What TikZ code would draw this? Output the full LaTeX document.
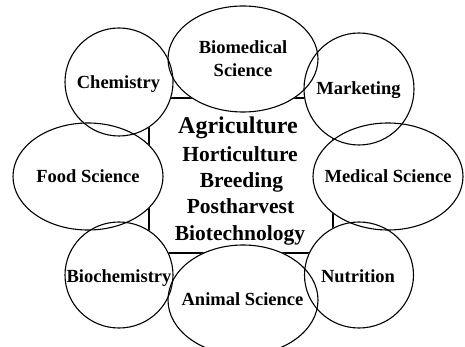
\documentclass[tikz,border=0pt]{standalone}
\usepackage{fontspec}
\setmainfont{Liberation Serif}
\usetikzlibrary{shapes.geometric,calc}
\pgfdeclarelayer{bg}
\pgfdeclarelayer{fills}
\pgfsetlayers{bg,fills,main}
\begin{document}
\begin{tikzpicture}[x=1pt,y=-1pt,
  bub/.style={ellipse, draw, line width=1.1pt, inner sep=0pt},
  lab/.style={font=\fontsize{18.5}{23}\selectfont\bfseries, inner sep=0pt, align=center},
  core/.style={font=\fontsize{21.5}{23}\selectfont\bfseries, inner sep=0pt, anchor=base},
  box/.style={draw, line width=1.1pt, inner sep=0pt}
  ]
\useasboundingbox (0,0) rectangle (465,347);
% outer bubbles
\node[bub, minimum width=150pt, minimum height=106pt] (biomed) at (243,59) {};
\node[bub, minimum width=108pt, minimum height=108pt] (chem) at (119,82) {};
\node[bub, minimum width=110pt, minimum height=112pt] (mark) at (359,89) {};
\node[bub, minimum width=150pt, minimum height=107pt] (food) at (88,176.5) {};
\node[bub, minimum width=150pt, minimum height=107pt] (med) at (388,176.5) {};
\node[bub, minimum width=108pt, minimum height=106pt] (bioch) at (119,275) {};
\node[bub, minimum width=109pt, minimum height=106pt] (nutr) at (359,275) {};
\node[bub, minimum width=150pt, minimum height=110pt] (anim) at (243,300) {};
% white fills beneath outlines
\begin{pgfonlayer}{fills}
\foreach \nd in {biomed,chem,mark,food,med,bioch,nutr,anim}{
  \path let \p1=($(\nd.east)-(\nd.center)$), \p2=($(\nd.north)-(\nd.center)$) in
    [fill=white] (\nd.center) ellipse ({abs(\x1)} and {abs(\y2)});
}
\end{pgfonlayer}
% central box
\begin{pgfonlayer}{bg}
\node[box, minimum width=184pt, minimum height=155pt] (core) at (241,175.5) {};
\end{pgfonlayer}
% labels
\node[lab] (biomedt) at (243,59) {Biomedical\\Science};
\node[lab, anchor=base] (chemt) at (118.5,89) {Chemistry};
\node[lab, anchor=base] (markt) at (358.5,95) {Marketing};
\node[lab, anchor=base] (foodt) at (88,183) {Food Science};
\node[lab, anchor=base] (medt) at (388,183) {Medical Science};
\node[lab, anchor=base] (biocht) at (119,282) {Biochemistry};
\node[lab, anchor=base] (nutrt) at (358,282) {Nutrition};
\node[lab, anchor=base] (animt) at (242.5,305) {Animal Science};
% core text
\node[core, font=\fontsize{24}{26}\selectfont\bfseries] (agri) at (238,134) {Agriculture};
\node[core] (hort) at (240,162) {Horticulture};
\node[core] (breed) at (241.5,188) {Breeding};
\node[core] (post) at (240.5,214) {Postharvest};
\node[core] (biot) at (240,240) {Biotechnology};
\end{tikzpicture}
\end{document}
